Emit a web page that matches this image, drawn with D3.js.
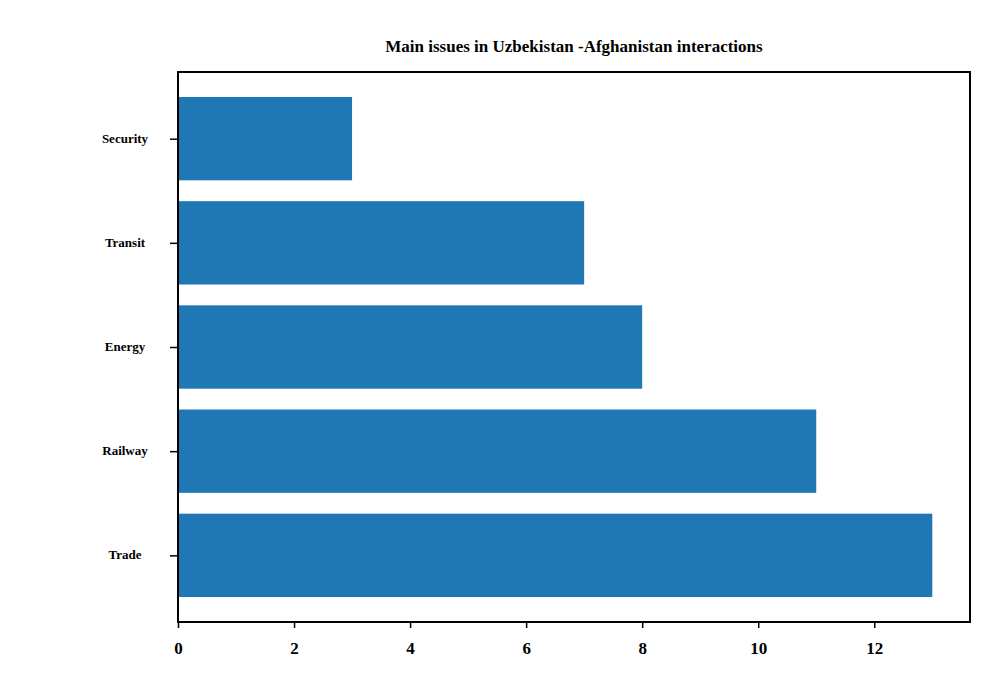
<!DOCTYPE html>
<html>
<head>
<meta charset="utf-8">
<script src="https://cdn.jsdelivr.net/npm/d3@7"></script>
<style>
  body { margin: 0; background: #fff; }
  text { font-family: "Liberation Serif", "Times New Roman", serif; font-weight: bold; }
</style>
</head>
<body>
<div id="chart"></div>
<script>
// Data (bottom to top, as drawn)
const categories = ['Trade', 'Railway', 'Energy', 'Transit', 'Security'];
const counts = [13, 11, 8, 7, 3];
const xTicks = [0, 2, 4, 6, 8, 10, 12];

const margin = { top: 72, right: 30, bottom: 78, left: 178 };
const width = 1000 - margin.left - margin.right;
const height = 700 - margin.top - margin.bottom;

const svg = d3.select('#chart')
  .append('svg')
  .attr('width', 1000)
  .attr('height', 700);

const g = svg.append('g')
  .attr('transform', `translate(${margin.left},${margin.top})`);

// matplotlib-like scales with 5% margins
const x = d3.scaleLinear()
  .domain([0, d3.max(counts) * 1.05])
  .range([0, width]);

const y = d3.scaleLinear()
  .domain([-0.64, categories.length - 1 + 0.64])
  .range([height, 0]);

const barH = y(0) - y(0.8);

g.selectAll('.bar')
  .data(categories)
  .enter()
  .append('rect')
  .attr('class', 'bar')
  .attr('x', x(0))
  .attr('y', (d, i) => y(i + 0.4))
  .attr('width', (d, i) => x(counts[i]) - x(0))
  .attr('height', barH)
  .attr('fill', '#1f77b4');

// x axis
const xAxis = g.append('g')
  .attr('transform', `translate(0,${height})`)
  .call(d3.axisBottom(x).tickValues(xTicks).tickSize(6).tickPadding(14));
xAxis.select('.domain').remove();
xAxis.selectAll('line').attr('stroke', '#000').attr('stroke-width', 1.5);
xAxis.selectAll('text').style('font-size', '17px').attr('fill', '#000');

// y axis ticks and labels
const yAxis = g.append('g')
  .call(d3.axisLeft(y).tickValues(d3.range(categories.length)).tickFormat(() => '').tickSize(8));
yAxis.select('.domain').remove();
yAxis.selectAll('line').attr('stroke', '#000').attr('stroke-width', 1.5);

g.selectAll('.ylab')
  .data(categories)
  .enter()
  .append('text')
  .attr('class', 'ylab')
  .attr('x', -53)
  .attr('y', (d, i) => y(i))
  .attr('dy', '0.32em')
  .attr('text-anchor', 'middle')
  .style('font-size', '13px')
  .text(d => d);

// frame
g.append('rect')
  .attr('width', width)
  .attr('height', height)
  .attr('fill', 'none')
  .attr('stroke', '#000')
  .attr('stroke-width', 2);

// title
svg.append('text')
  .attr('x', margin.left + width / 2)
  .attr('y', 52)
  .attr('text-anchor', 'middle')
  .style('font-size', '17px')
  .text('Main issues in Uzbekistan -Afghanistan interactions');
</script>
</body>
</html>
